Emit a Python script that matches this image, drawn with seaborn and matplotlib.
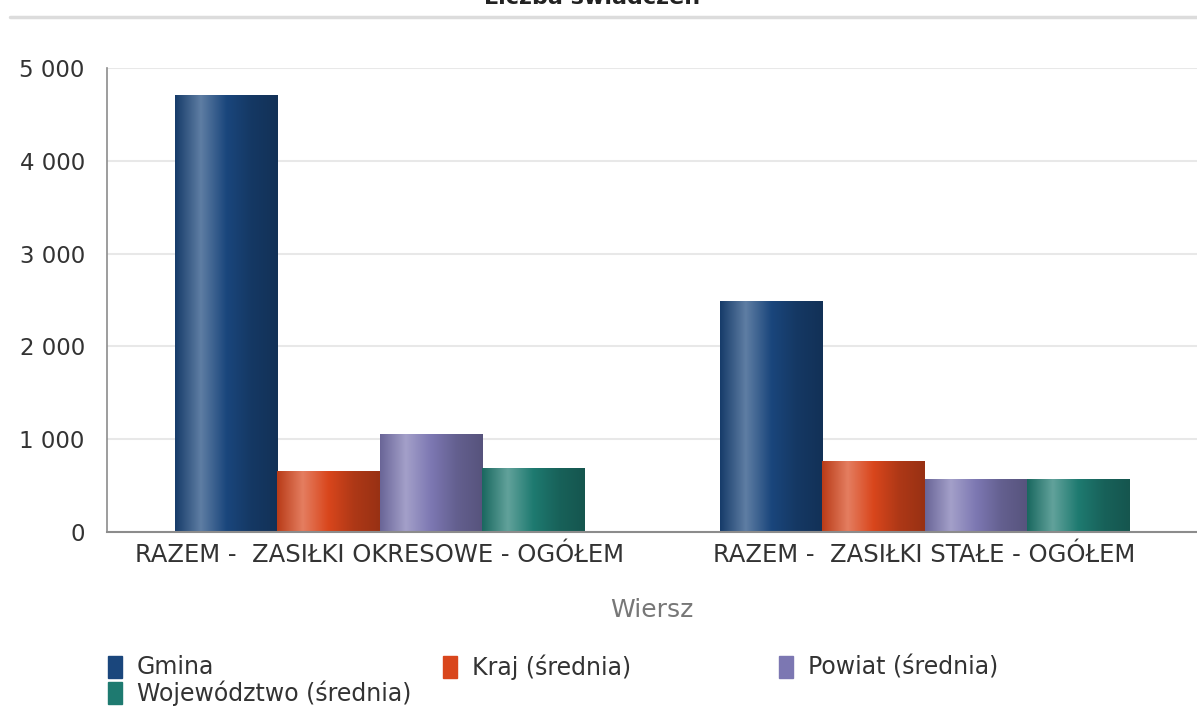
import numpy as np
import pandas as pd
import matplotlib
matplotlib.use("Agg")
import matplotlib.pyplot as plt
import seaborn as sns
from matplotlib.colors import LinearSegmentedColormap, to_rgb
from matplotlib.patches import Rectangle
from matplotlib.lines import Line2D
from matplotlib.ticker import FuncFormatter

# Data
categories = ["RAZEM -  ZASIŁKI OKRESOWE - OGÓŁEM", "RAZEM -  ZASIŁKI STAŁE - OGÓŁEM"]
series = ["Gmina", "Kraj (średnia)", "Powiat (średnia)", "Województwo (średnia)"]
gmina = [4700, 2480]
kraj = [650, 760]
powiat = [1050, 570]
wojewodztwo = [680, 565]
yticks = [0, 1000, 2000, 3000, 4000, 5000]

colors = ["#1a467c", "#d9461c", "#7c77b2", "#1e7a70"]

df = pd.DataFrame({
    "Wiersz": categories * 4,
    "Seria": np.repeat(series, 2),
    "Wartosc": gmina + kraj + powiat + wojewodztwo,
})

sns.set_theme(style="white")
plt.rcParams["font.family"] = ["DejaVu Sans"]

fig = plt.figure(figsize=(11.97, 7.13), dpi=100)
ax = fig.add_axes([107 / 1197, 1 - 532 / 713, 1 - 107 / 1197, (532 - 68) / 713])

sns.barplot(data=df, x="Wiersz", y="Wartosc", hue="Seria", hue_order=series,
            palette=colors, width=0.75, dodge=True, legend=False, ax=ax,
            saturation=1, linewidth=0)


def shade(c):
    r = np.array(to_rgb(c))
    light = r + (1 - r) * 0.3
    return LinearSegmentedColormap.from_list(
        "s", [r * 0.85, light, r, r * 0.8, r * 0.7], N=256)


# cylinder-like gradient on every bar
grad = np.linspace(0, 1, 256).reshape(1, -1)
for cont, c in zip(ax.containers, colors):
    cmap = shade(c)
    for bar in cont:
        x, y, w, h = bar.get_x(), bar.get_y(), bar.get_width(), bar.get_height()
        ax.imshow(grad, extent=[x, x + w, y, y + h], aspect="auto",
                  cmap=cmap, zorder=bar.get_zorder() + 0.1, interpolation="bilinear")

ax.set_xlim(-0.5, 1.5)
ax.set_ylim(0, 5000)
ax.set_yticks(yticks)
ax.yaxis.set_major_formatter(FuncFormatter(lambda v, p: f"{int(v):,}".replace(",", " ")))
ax.grid(axis="y", color="#e8e8e8", linewidth=1.5)
ax.set_axisbelow(True)
for s in ["top", "right"]:
    ax.spines[s].set_visible(False)
ax.spines["left"].set_color("#8c8c8c")
ax.spines["bottom"].set_color("#8c8c8c")
ax.spines["left"].set_linewidth(1.2)
ax.spines["bottom"].set_linewidth(1.5)
ax.tick_params(axis="y", length=0, pad=16, labelsize=16.5, labelcolor="#333333")
ax.tick_params(axis="x", length=0, pad=8, labelsize=17.5, labelcolor="#333333")
ax.set_ylabel("")
ax.set_xlabel("Wiersz", fontsize=18, color="#777777", labelpad=22)

# title (cut off at the top, as in the source) and separator line
fig.text(592 / 1197, 1 - 4 / 713, "Liczba świadczeń", ha="center", va="baseline",
         fontsize=16, fontweight="bold", color="#222222")
fig.add_artist(Line2D([10 / 1197, 1], [1 - 17 / 713] * 2, color="#dcdcdc", linewidth=2.5))

# legend laid out in fixed-width columns
legend_pos = [(108, 667), (443, 667), (779, 667), (108, 693)]
for (px, py), name, c in zip(legend_pos, series, colors):
    fig.add_artist(Rectangle((px / 1197, 1 - (py + 11) / 713), 14 / 1197, 22 / 713,
                             transform=fig.transFigure, color=c))
    fig.text((px + 29) / 1197, 1 - py / 713, name, ha="left", va="center",
             fontsize=17, color="#333333")

fig.savefig("out.png", dpi=100)
